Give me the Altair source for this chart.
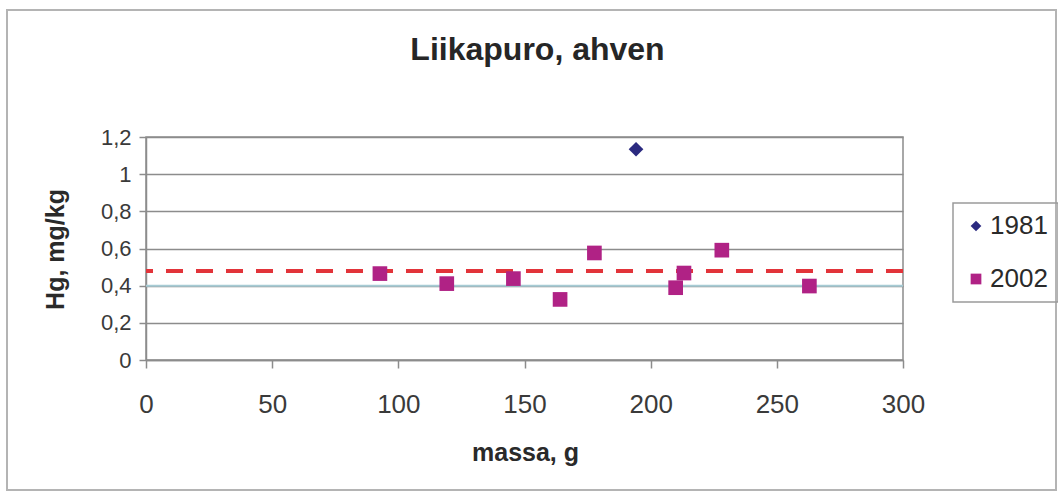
import altair as alt
import pandas as pd

# ---- data ----
series_names = ["1981", "2002"]
mass_1981 = [194.2]
hg_1981 = [1.134]
mass_2002 = [92.7, 119.2, 145.6, 164.1, 177.7, 209.9, 213.2, 228.2, 262.9]
hg_2002 = [0.465, 0.411, 0.438, 0.326, 0.576, 0.389, 0.468, 0.591, 0.398]
dashed_level = [0.479]
blue_line_level = [0.4]
x_ticks = [0, 50, 100, 150, 200, 250, 300]
y_ticks = [0, 0.2, 0.4, 0.6, 0.8, 1.0, 1.2]

colors = ["#2b2a80", "#b02285"]
shapes = ["diamond", "square"]

points = pd.DataFrame(
    {
        "massa": mass_1981 + mass_2002,
        "hg": hg_1981 + hg_2002,
        "year": [series_names[0]] * len(mass_1981) + [series_names[1]] * len(mass_2002),
    }
)
dash_df = pd.DataFrame({"level": dashed_level})
blue_df = pd.DataFrame({"level": blue_line_level})

FONT = "Liberation Sans"
W, H = 757, 223
LEFT, TOP = 146, 137

x_scale = alt.Scale(domain=[0, 300], nice=False, zero=True)
y_scale = alt.Scale(domain=[0, 1.2], nice=False, zero=True)

x_axis = alt.Axis(
    values=x_ticks,
    grid=False,
    tickSize=8,
    tickColor="#8c8c8c",
    tickWidth=1.5,
    domainColor="#8c8c8c",
    domainWidth=1.5,
    labelFontSize=26,
    labelColor="#3a3a3a",
    labelPadding=23,
    labelFlush=False,
    labelFont=FONT,
    title="massa, g",
    titleFont=FONT,
    titleFontSize=25,
    titleFontWeight="bold",
    titleColor="#2a2a2a",
    titleX=379,
    titleY=100,
    titleBaseline="alphabetic",
    titleAnchor="middle",
)
y_axis = alt.Axis(
    values=y_ticks,
    grid=True,
    gridColor="#8c8c8c",
    gridWidth=1.5,
    tickSize=7,
    tickColor="#8c8c8c",
    tickWidth=1.5,
    domainColor="#8c8c8c",
    domainWidth=1.5,
    labelFontSize=22,
    labelColor="#3a3a3a",
    labelPadding=8,
    labelFlush=False,
    labelFont=FONT,
    labelExpr="replace(format(datum.value, '.1~f'), '.', ',')",
    title="Hg, mg/kg",
    titleFont=FONT,
    titleFontSize=25,
    titleFontWeight="bold",
    titleColor="#2a2a2a",
    titleAngle=-90,
    titleX=-91,
    titleY=112,
    titleBaseline="middle",
    titleAnchor="middle",
)

frame = (
    alt.Chart(alt.Data(values=[{"a": 1}]))
    .mark_rect(filled=False, stroke="#b4b4b4", strokeWidth=2)
    .encode(
        x=alt.value(-139),
        x2=alt.value(910),
        y=alt.value(-127),
        y2=alt.value(353),
    )
)

blue_rule = (
    alt.Chart(blue_df)
    .mark_rule(color="#a6cbd4", strokeWidth=2)
    .encode(y=alt.Y("level:Q", scale=y_scale, axis=y_axis))
)

dash_rule = (
    alt.Chart(dash_df)
    .mark_rule(color="#e2343a", strokeWidth=4, strokeDash=[17, 13])
    .encode(y=alt.Y("level:Q", scale=y_scale, axis=y_axis))
)

pts = (
    alt.Chart(points)
    .mark_point(filled=True, size=215, opacity=1)
    .encode(
        x=alt.X("massa:Q", scale=x_scale, axis=x_axis),
        y=alt.Y("hg:Q", scale=y_scale, axis=y_axis),
        color=alt.Color(
            "year:N",
            scale=alt.Scale(domain=series_names, range=colors),
            legend=alt.Legend(title=None),
        ),
        shape=alt.Shape(
            "year:N",
            scale=alt.Scale(domain=series_names, range=shapes),
            legend=alt.Legend(title=None),
        ),
    )
)

chart = (
    alt.layer(frame, blue_rule, dash_rule, pts)
    .properties(
        width=W,
        height=H,
        autosize=alt.AutoSizeParams(type="none"),
        padding={"left": LEFT, "top": TOP, "right": 1058 - LEFT - W, "bottom": 497 - TOP - H},
        title=alt.TitleParams(
            "Liikapuro, ahven",
            font=FONT,
            fontSize=32,
            fontWeight="bold",
            color="#262626",
            anchor="middle",
            frame="group",
            dx=13,
            offset=-83,
            baseline="alphabetic",
        ),
        background="white",
    )
    .configure_view(stroke="#8c8c8c", strokeWidth=1.5)
    .configure_legend(
        orient="none",
        legendX=807,
        legendY=66,
        strokeColor="#9a9a9a",
        strokeWidth=1.5,
        padding=10,
        labelFont=FONT,
        labelFontSize=26,
        labelColor="#2a2a2a",
        symbolSize=115,
        rowPadding=27,
        labelOffset=1,
        symbolStrokeWidth=0,
    )
)

chart.save("out.html", embed_options={"renderer": "svg", "actions": False})
